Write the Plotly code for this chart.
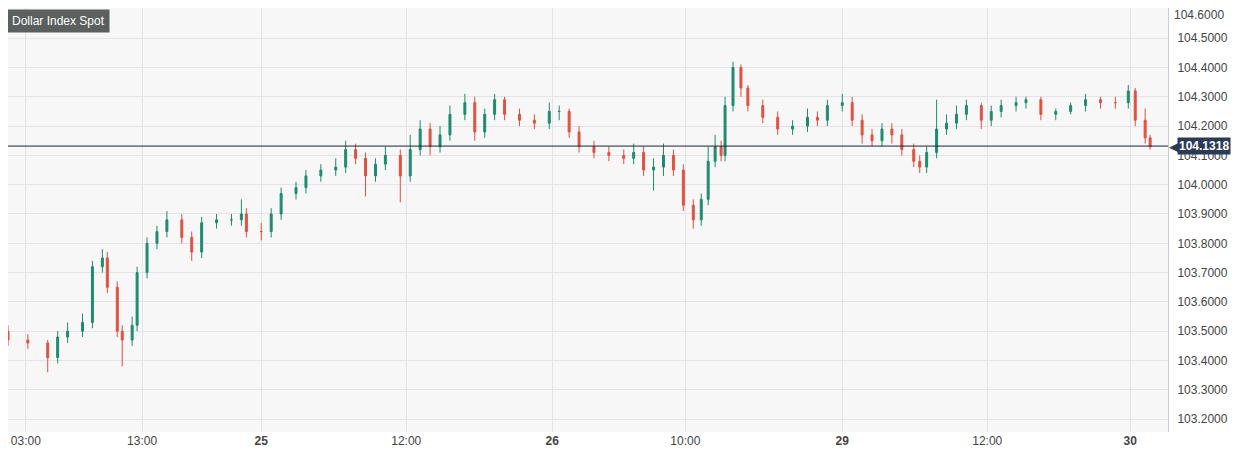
import plotly.graph_objects as go

# trading-timeline slot of each bar (weekend gap removed)
slot = [0,20,40,50,60,75,85,95,100,110,115,125,130,140,150,160,175,185,195,210,
        225,235,240,255,265,275,290,300,315,330,340,350,360,370,380,395,405,415,425,435,
        445,460,470,480,490,500,515,530,545,555,565,575,590,605,620,630,640,650,660,670,
        680,690,698,705,712,718,722,730,738,745,760,775,790,805,815,825,840,850,860,870,
        880,890,900,912,918,925,935,945,955,965,980,990,1000,1015,1025,1040,1055,1070,1085,1100,
        1115,1128,1135,1145,1150]

close = [103.47,103.46,103.41,103.48,103.50,103.53,103.72,103.75,103.65,103.50,
         103.47,103.52,103.70,103.80,103.84,103.88,103.82,103.77,103.87,103.88,
         103.88,103.90,103.84,103.84,103.90,103.97,103.99,104.03,104.05,104.06,
         104.12,104.09,104.03,104.07,104.10,104.03,104.12,104.19,104.13,104.17,
         104.24,104.28,104.18,104.24,104.29,104.24,104.22,104.21,104.25,104.25,
         104.18,104.13,104.11,104.10,104.09,104.11,104.05,104.06,104.10,104.05,
         103.93,103.88,103.95,104.08,104.13,104.10,104.27,104.40,104.33,104.27,
         104.23,104.19,104.20,104.23,104.22,104.27,104.28,104.22,104.17,104.15,
         104.19,104.17,104.12,104.08,104.06,104.11,104.19,104.21,104.24,104.27,
         104.22,104.25,104.27,104.28,104.29,104.24,104.25,104.27,104.29,104.28,
         104.28,104.32,104.22,104.16,104.13]

high = [103.52,103.49,103.47,103.50,103.53,103.56,103.74,103.78,103.77,103.67,
        103.52,103.55,103.72,103.82,103.86,103.91,103.90,103.84,103.89,103.90,
        103.90,103.95,103.92,103.87,103.92,103.99,104.01,104.05,104.07,104.09,
        104.15,104.14,104.11,104.09,104.13,104.12,104.17,104.22,104.21,104.20,
        104.27,104.31,104.30,104.26,104.31,104.30,104.26,104.24,104.28,104.27,
        104.26,104.20,104.15,104.13,104.12,104.14,104.13,104.09,104.14,104.12,
        104.07,103.95,103.97,104.13,104.17,104.15,104.30,104.42,104.41,104.34,
        104.29,104.25,104.22,104.26,104.25,104.29,104.31,104.30,104.24,104.19,
        104.21,104.21,104.19,104.14,104.10,104.13,104.29,104.24,104.27,104.29,
        104.28,104.27,104.29,104.30,104.30,104.30,104.26,104.28,104.31,104.30,
        104.30,104.34,104.33,104.26,104.17]

low = [103.45,103.44,103.36,103.39,103.46,103.48,103.51,103.70,103.63,103.48,
       103.38,103.45,103.50,103.68,103.78,103.82,103.80,103.74,103.75,103.85,
       103.86,103.86,103.82,103.81,103.82,103.88,103.95,103.97,104.01,104.03,
       104.04,104.07,103.96,104.01,104.05,103.94,104.01,104.10,104.10,104.11,
       104.15,104.22,104.15,104.16,104.22,104.22,104.20,104.19,104.19,104.22,
       104.16,104.11,104.09,104.08,104.07,104.07,104.03,103.98,104.03,104.03,
       103.91,103.85,103.86,103.93,104.06,104.08,104.08,104.25,104.30,104.25,
       104.21,104.17,104.17,104.18,104.20,104.20,104.25,104.20,104.14,104.13,
       104.13,104.14,104.10,104.06,104.04,104.04,104.09,104.17,104.19,104.22,
       104.19,104.20,104.23,104.25,104.26,104.22,104.22,104.24,104.25,104.26,
       104.26,104.26,104.20,104.14,104.12]

open_ = [103.50] + close[:-1]

last_price = 104.1318
tick_pos = [18, 135, 255, 401, 548, 682, 840, 986, 1130]
tick_text = ["03:00", "13:00", "<b>25</b>", "12:00", "<b>26</b>", "10:00", "<b>29</b>", "12:00", "<b>30</b>"]
y_ticks = [103.2, 103.3, 103.4, 103.5, 103.6, 103.7, 103.8, 103.9, 104.0, 104.1, 104.2, 104.3, 104.4, 104.5, 104.6]

fig = go.Figure(go.Candlestick(
    x=slot, open=open_, high=high, low=low, close=close,
    increasing=dict(line=dict(color="#1f8a6d", width=1), fillcolor="#1f8a6d"),
    decreasing=dict(line=dict(color="#e0503f", width=1), fillcolor="#e0503f"),
    whiskerwidth=0, showlegend=False, hoverinfo="skip",
))

fig.add_hline(y=last_price, line=dict(color="#1c2533", width=1))

fig.add_annotation(x=1, xref="paper", y=last_price, yref="y", xanchor="left",
                   text="<b>%.4f</b>" % last_price, showarrow=False,
                   bgcolor="#2b3a55", font=dict(color="white", size=12, family="Arial"),
                   borderpad=1, xshift=9)
fig.add_annotation(x=1, xref="paper", y=last_price, yref="y", xanchor="left",
                   text="◀", showarrow=False, font=dict(color="#2b3a55", size=13),
                   xshift=-1)
fig.add_annotation(x=1, xref="paper", y=104.6, yref="y", xanchor="left", yanchor="top",
                   text="104.6000", showarrow=False, font=dict(color="#444", size=12),
                   xshift=4, yshift=3)
fig.add_annotation(x=0.0, xref="paper", y=1.0, yref="paper", xanchor="left", yanchor="top",
                   text="Dollar Index Spot", showarrow=False,
                   bgcolor="#5b5f5e", font=dict(color="white", size=12, family="Arial"),
                   borderpad=4, xshift=-1, yshift=-1)

fig.update_layout(
    width=1236, height=452,
    margin=dict(l=0, r=76, t=0, b=28),
    paper_bgcolor="white", plot_bgcolor="#f7f7f8",
    font=dict(family="Arial", size=12, color="#444"),
    xaxis=dict(range=[0, 1168], tickvals=tick_pos, ticktext=tick_text,
               showgrid=True, gridcolor="#e4e4e8", zeroline=False,
               rangeslider=dict(visible=False), ticks="", fixedrange=True),
    yaxis=dict(side="right", range=[103.156, 104.603], tickvals=y_ticks, tickformat=".4f",
               showgrid=True, gridcolor="#e4e4e8", zeroline=False,
               showline=True, linecolor="#ccc", ticks="", ticklabelstandoff=6),
)

fig.write_html("out.html")
